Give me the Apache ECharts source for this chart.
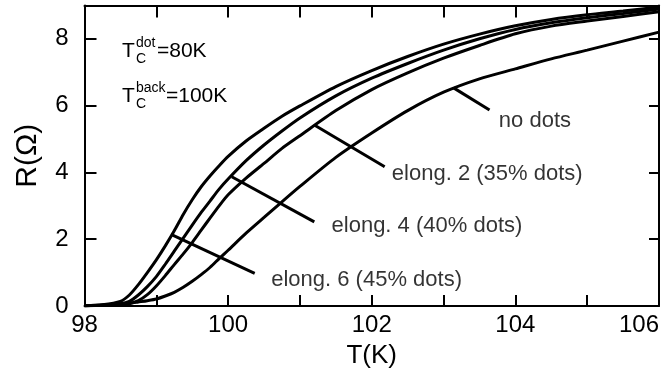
<!DOCTYPE html>
<html>
<head>
<meta charset="utf-8">
<script src="https://cdn.jsdelivr.net/npm/echarts@6/dist/echarts.min.js"></script>
<style>
html,body{margin:0;padding:0;background:#fff;}
#chart{width:662px;height:376px;}
</style>
</head>
<body>
<div id="chart"></div>
<script>
// ---- data ----
const temps = [98, 98.25, 98.5, 98.625, 98.75, 98.875, 99, 99.125, 99.25, 99.375, 99.5, 99.625, 99.75, 99.875, 100, 100.25, 100.5, 100.75, 101, 101.5, 102, 102.5, 103, 103.5, 104, 104.5, 105, 105.5, 106];
const elong6 = [0.01, 0.04, 0.14, 0.33, 0.64, 1.0, 1.38, 1.8, 2.25, 2.74, 3.18, 3.57, 3.9, 4.2, 4.48, 4.94, 5.32, 5.68, 5.99, 6.57, 7.05, 7.47, 7.84, 8.14, 8.39, 8.58, 8.72, 8.83, 8.95];
const elong4 = [0.01, 0.03, 0.07, 0.14, 0.33, 0.58, 0.88, 1.25, 1.64, 2.03, 2.42, 2.8, 3.15, 3.5, 3.8, 4.35, 4.82, 5.24, 5.63, 6.29, 6.82, 7.26, 7.66, 8.0, 8.28, 8.48, 8.63, 8.76, 8.89];
const elong2 = [0.01, 0.02, 0.04, 0.07, 0.16, 0.34, 0.6, 0.91, 1.24, 1.56, 1.9, 2.27, 2.64, 3.0, 3.33, 3.83, 4.27, 4.72, 5.1, 5.85, 6.48, 6.98, 7.42, 7.8, 8.15, 8.38, 8.53, 8.67, 8.81];
const noDots = [0.01, 0.02, 0.05, 0.08, 0.12, 0.16, 0.21, 0.3, 0.41, 0.56, 0.74, 0.94, 1.16, 1.42, 1.67, 2.18, 2.65, 3.12, 3.58, 4.45, 5.18, 5.85, 6.4, 6.8, 7.1, 7.4, 7.66, 7.93, 8.2];

const annotLabels = ['elong. 6 (45% dots)', 'elong. 4 (40% dots)', 'elong. 2 (35% dots)', 'no dots'];
const leaderStart = [[99.22, 2.13], [100.05, 3.87], [101.20, 5.42], [103.14, 6.53]];
const leaderEnd = [[100.37, 0.98], [101.20, 2.52], [102.18, 4.17], [103.64, 5.87]];
const labelAt = [[100.60, 0.78], [101.44, 2.40], [102.28, 3.95], [103.77, 5.54]];

const xTicks = {min: 98, max: 106, step: 1};
const yTicks = {min: 0, max: 9, step: 2};
const xName = 'T(K)';
const yName = 'R(\u03A9)';
const tcLines = [{sup: 'dot', val: '=80K'}, {sup: 'back', val: '=100K'}];

// ---- chart ----
const FONT = "'Liberation Sans', Arial, Helvetica, sans-serif";
const BLACK = '#000';
const chart = echarts.init(document.getElementById('chart'), null, {renderer: 'canvas'});

function pairs(ys) { return temps.map((t, i) => [t, ys[i]]); }
function curve(name, ys) {
  return {
    name, type: 'line', data: pairs(ys), showSymbol: false, symbol: 'none',
    smooth: 0.25,
    lineStyle: {color: BLACK, width: 3}, clip: true, z: 3
  };
}

const axisCommon = {
  axisLine: {show: true, onZero: false, lineStyle: {color: BLACK, width: 2}},
  axisTick: {show: true, inside: true, lineStyle: {color: BLACK, width: 2}},
  splitLine: {show: false}
};

const series = [
  curve(annotLabels[0], elong6),
  curve(annotLabels[1], elong4),
  curve(annotLabels[2], elong2),
  curve(annotLabels[3], noDots)
];
annotLabels.forEach((lab, i) => {
  series.push({
    type: 'line', data: [leaderStart[i], leaderEnd[i]], showSymbol: false, symbol: 'none',
    lineStyle: {color: BLACK, width: 3}, z: 4, silent: true
  });
});
series.push({
  type: 'scatter', symbolSize: 0, silent: true, z: 5,
  data: annotLabels.map((lab, i) => ({name: lab, value: labelAt[i]})),
  label: {show: true, position: 'right', distance: 0, formatter: p => p.name,
    color: BLACK, fontSize: 22, fontFamily: FONT}
});

const graphics = [];
tcLines.forEach((l, i) => {
  const cy = 51 + i * 45;
  const supW = i === 0 ? 21 : 30;
  graphics.push({type: 'text', x: 122, y: cy, style: {text: 'T', fontSize: 21, fontFamily: FONT, fill: BLACK, align: 'left', verticalAlign: 'middle'}});
  graphics.push({type: 'text', x: 136, y: cy - 8, style: {text: l.sup, fontSize: 14, fontFamily: FONT, fill: BLACK, align: 'left', verticalAlign: 'middle'}});
  graphics.push({type: 'text', x: 136, y: cy + 8, style: {text: 'C', fontSize: 14, fontFamily: FONT, fill: BLACK, align: 'left', verticalAlign: 'middle'}});
  graphics.push({type: 'text', x: 136 + supW, y: cy, style: {text: l.val, fontSize: 21, fontFamily: FONT, fill: BLACK, align: 'left', verticalAlign: 'middle'}});
});

const option = {
  animation: false,
  backgroundColor: '#fff',
  grid: {left: 84.5, right: 2.5, top: 5.4, bottom: 70},
  xAxis: [
    Object.assign({}, axisCommon, {
      type: 'value', position: 'bottom', min: xTicks.min, max: xTicks.max, interval: xTicks.step,
      axisTick: Object.assign({}, axisCommon.axisTick, {length: 11}),
      axisLabel: {show: true, margin: 7, fontSize: 24, fontFamily: FONT, color: BLACK, alignMaxLabel: 'right',
        formatter: v => (Math.round(v) % 2 === 0 ? String(v) : '')},
      name: xName, nameLocation: 'middle', nameGap: 37,
      nameTextStyle: {fontSize: 26, fontFamily: FONT, color: BLACK}
    }),
    Object.assign({}, axisCommon, {
      type: 'value', position: 'top', min: xTicks.min, max: xTicks.max, interval: xTicks.step,
      axisTick: Object.assign({}, axisCommon.axisTick, {length: 12}),
      axisLabel: {show: false}
    })
  ],
  yAxis: [
    Object.assign({}, axisCommon, {
      type: 'value', position: 'left', min: yTicks.min, max: yTicks.max, interval: yTicks.step,
      axisTick: Object.assign({}, axisCommon.axisTick, {length: 12}),
      axisLabel: {show: true, margin: 16, fontSize: 24, fontFamily: FONT, color: BLACK, showMaxLabel: false},
      name: yName, nameLocation: 'middle', nameGap: 42, nameRotate: 90,
      nameTextStyle: {fontSize: 30, fontFamily: FONT, color: BLACK}
    }),
    Object.assign({}, axisCommon, {
      type: 'value', position: 'right', min: yTicks.min, max: yTicks.max, interval: yTicks.step,
      axisTick: Object.assign({}, axisCommon.axisTick, {length: 10}),
      axisLabel: {show: false}
    })
  ],
  series,
  graphic: graphics
};
chart.setOption(option);
</script>
</body>
</html>
